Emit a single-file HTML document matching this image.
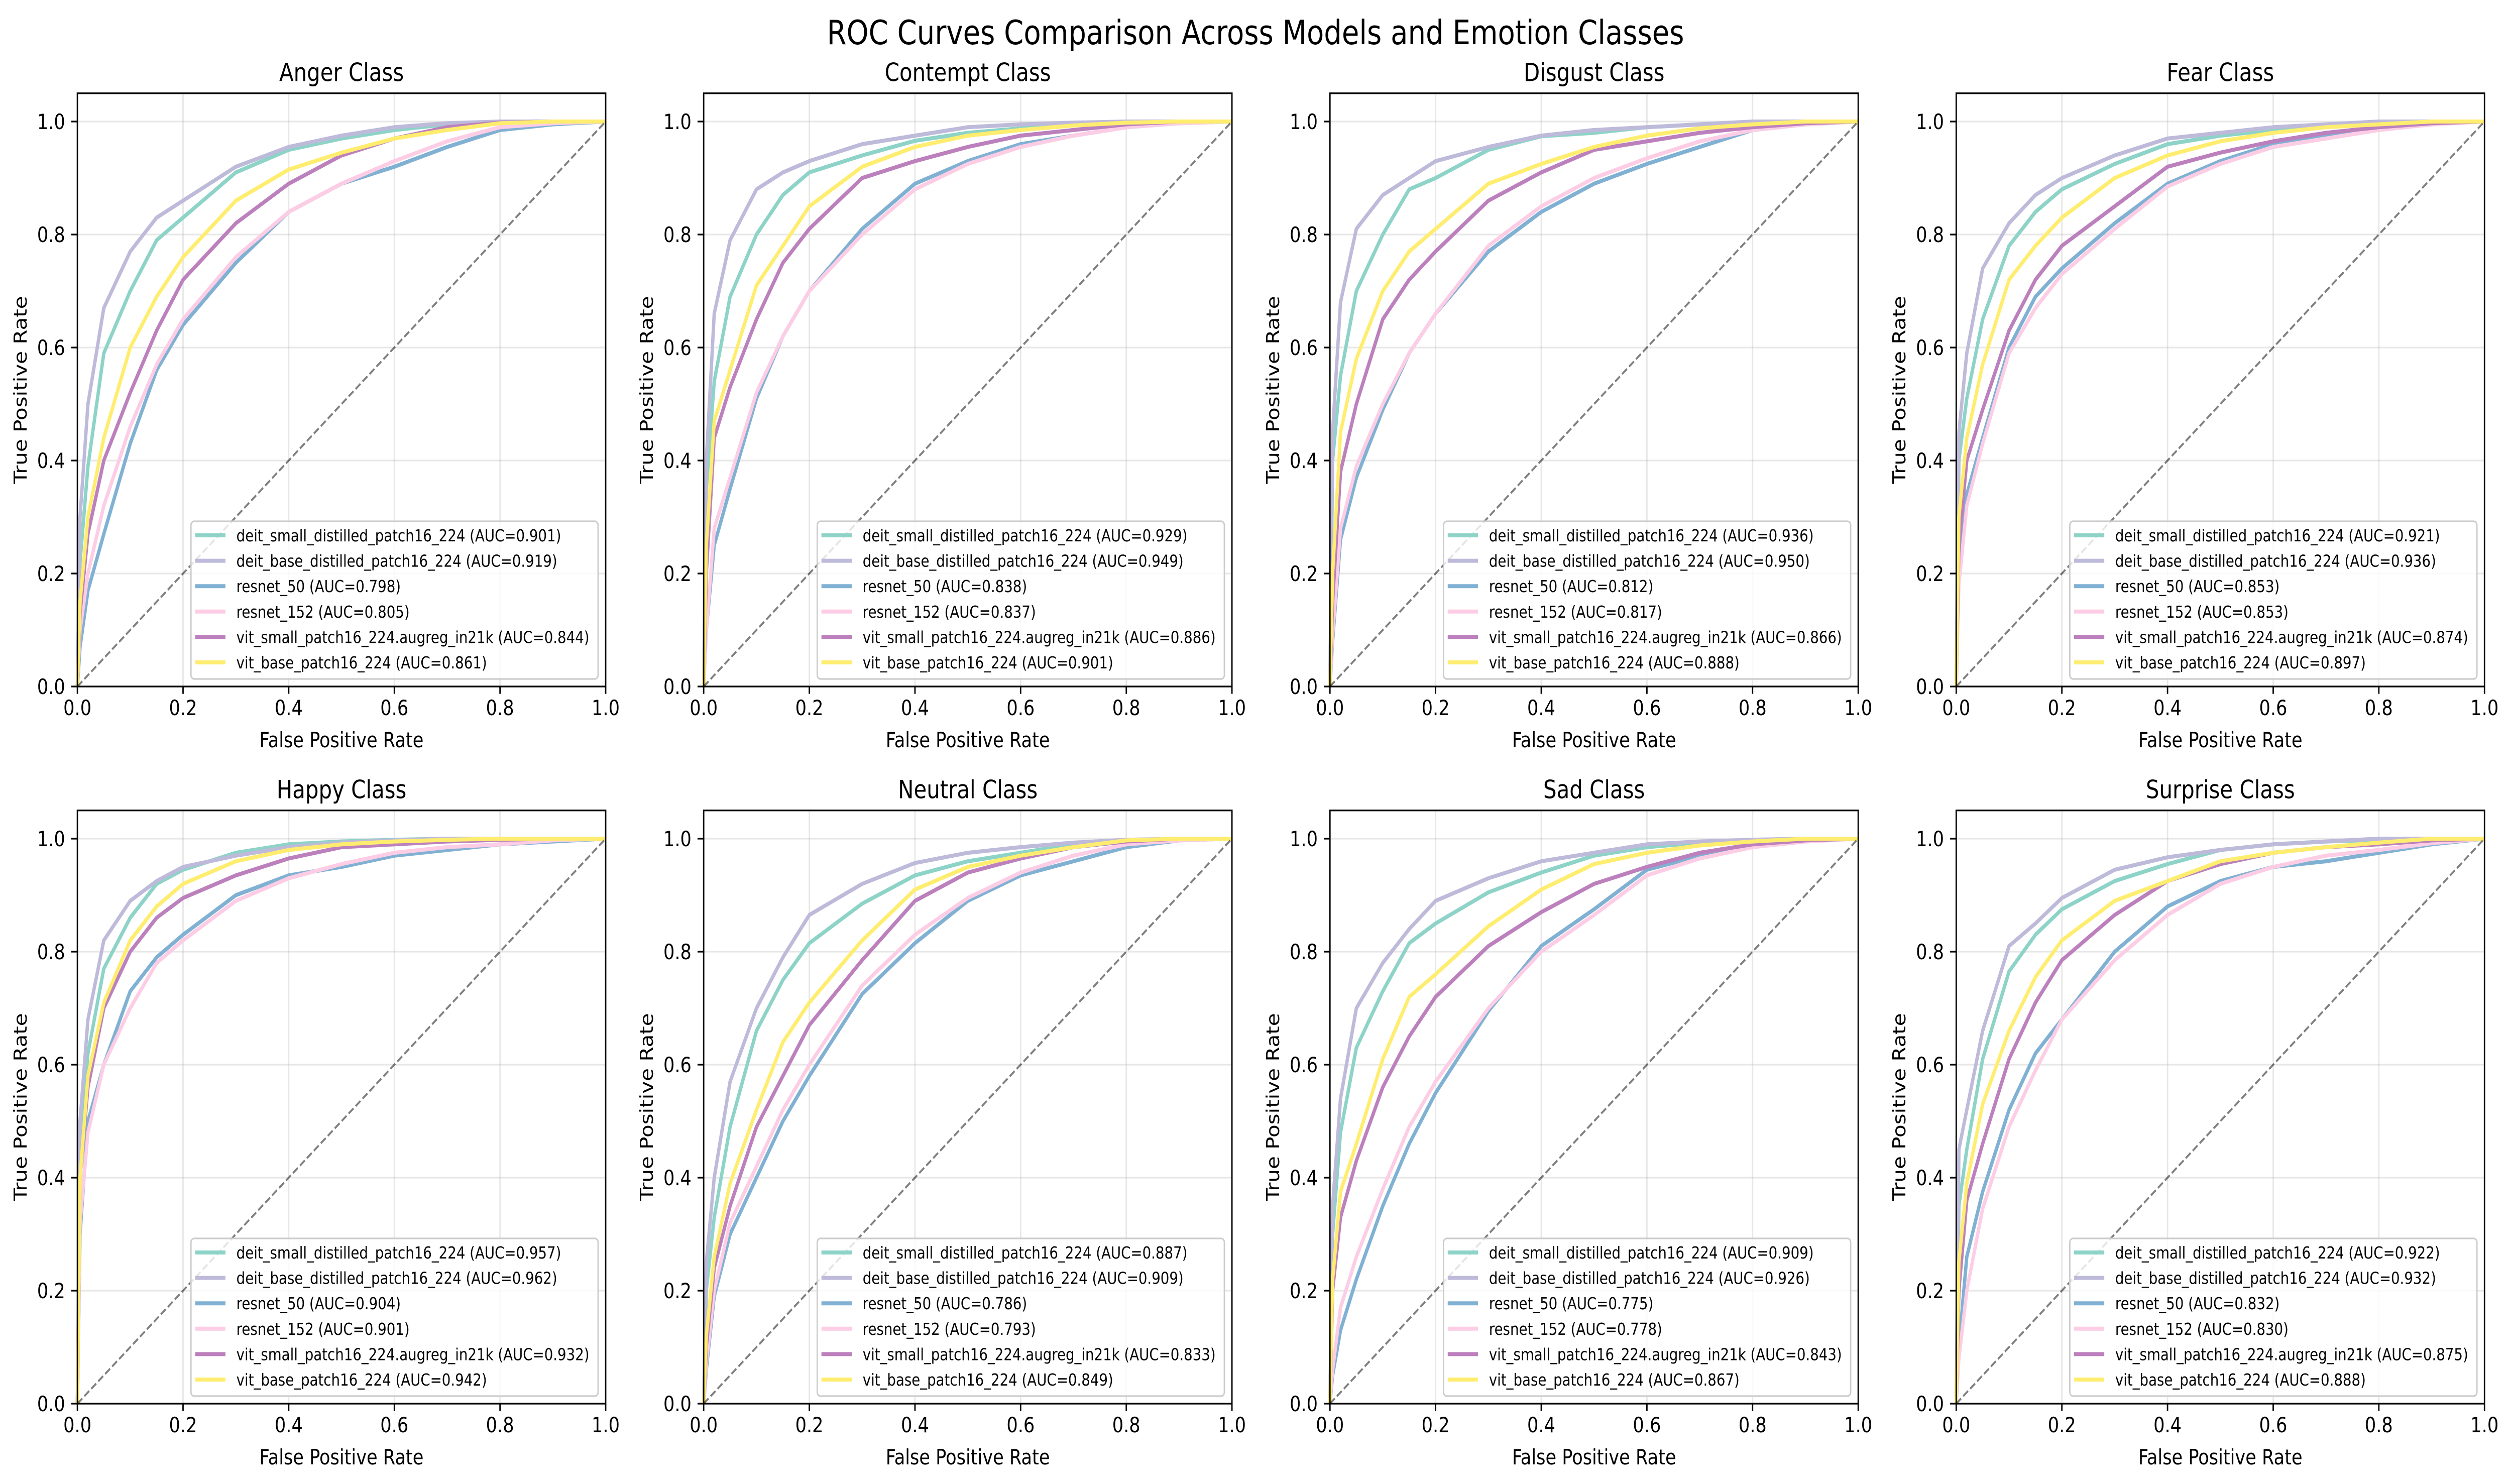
<!DOCTYPE html>
<html><head><meta charset="utf-8"><title>ROC Curves Comparison</title>
<style>html,body{margin:0;padding:0;background:#fff;overflow:hidden;width:100%;height:100%;}svg{display:block;width:100vw;height:100vh;font-family:"DejaVu Sans","Liberation Sans",sans-serif;}</style>
</head><body>
<svg id="fig" viewBox="0 0 5970 2955" preserveAspectRatio="none" xmlns="http://www.w3.org/2000/svg">
<rect width="5970" height="2955" fill="#fff"/>
<text x="2985" y="88" text-anchor="middle" font-size="67" fill="#000">ROC Curves Comparison Across Models and Emotion Classes</text>
</svg>
<script>
const classNames = ["Anger","Contempt","Disgust","Fear","Happy","Neutral","Sad","Surprise"];
const modelNames = ["deit_small_distilled_patch16_224","deit_base_distilled_patch16_224","resnet_50","resnet_152","vit_small_patch16_224.augreg_in21k","vit_base_patch16_224"];
const modelColors = ["#8dd3c7","#bebada","#80b1d3","#fccde5","#bc80bd","#ffed6f"];
const fprGrid = [0,0.005,0.02,0.05,0.1,0.15,0.2,0.3,0.4,0.5,0.6,0.7,0.8,0.9,1];
const tickValues = [0,0.2,0.4,0.6,0.8,1.0];
const tickLabels = ["0.0","0.2","0.4","0.6","0.8","1.0"];

const tprAnger = [
[0,0.22,0.39,0.59,0.70,0.79,0.83,0.91,0.95,0.97,0.985,0.995,0.998,1,1],
[0,0.30,0.50,0.67,0.77,0.83,0.86,0.92,0.955,0.975,0.99,0.997,1,1,1],
[0,0.07,0.17,0.27,0.43,0.56,0.64,0.75,0.84,0.89,0.92,0.955,0.985,0.995,1],
[0,0.10,0.20,0.32,0.46,0.57,0.65,0.76,0.84,0.89,0.93,0.965,0.99,0.997,1],
[0,0.13,0.27,0.40,0.52,0.63,0.72,0.82,0.89,0.94,0.97,0.99,0.998,1,1],
[0,0.15,0.30,0.44,0.60,0.69,0.76,0.86,0.915,0.945,0.97,0.985,0.997,1,1]];
const tprContempt = [
[0,0.35,0.54,0.69,0.80,0.87,0.91,0.94,0.966,0.98,0.988,0.995,0.998,1,1],
[0,0.40,0.66,0.79,0.88,0.91,0.93,0.96,0.975,0.99,0.995,0.998,1,1,1],
[0,0.10,0.25,0.35,0.51,0.62,0.70,0.81,0.89,0.93,0.96,0.975,0.99,0.997,1],
[0,0.10,0.28,0.37,0.52,0.62,0.70,0.80,0.88,0.925,0.955,0.975,0.99,0.997,1],
[0,0.20,0.44,0.53,0.65,0.75,0.81,0.90,0.93,0.955,0.975,0.985,0.995,1,1],
[0,0.25,0.47,0.56,0.71,0.78,0.85,0.92,0.955,0.975,0.985,0.993,0.998,1,1]];
const tprDisgust = [
[0,0.40,0.55,0.70,0.80,0.88,0.90,0.95,0.974,0.98,0.99,0.995,0.998,1,1],
[0,0.45,0.68,0.81,0.87,0.90,0.93,0.955,0.975,0.985,0.99,0.995,1,1,1],
[0,0.08,0.26,0.37,0.49,0.59,0.66,0.77,0.84,0.89,0.925,0.955,0.985,0.995,1],
[0,0.09,0.28,0.39,0.50,0.59,0.66,0.78,0.85,0.90,0.935,0.965,0.985,0.995,1],
[0,0.15,0.38,0.50,0.65,0.72,0.77,0.86,0.91,0.95,0.965,0.98,0.99,0.997,1],
[0,0.20,0.45,0.58,0.70,0.77,0.81,0.89,0.925,0.955,0.975,0.988,0.995,1,1]];
const tprFear = [
[0,0.40,0.51,0.65,0.78,0.84,0.88,0.925,0.96,0.975,0.985,0.993,0.997,1,1],
[0,0.45,0.59,0.74,0.82,0.87,0.90,0.94,0.97,0.98,0.99,0.995,1,1,1],
[0,0.20,0.34,0.44,0.60,0.69,0.74,0.82,0.89,0.93,0.96,0.975,0.99,0.997,1],
[0,0.18,0.32,0.43,0.59,0.67,0.73,0.81,0.885,0.925,0.955,0.97,0.985,0.995,1],
[0,0.25,0.40,0.49,0.63,0.72,0.78,0.85,0.92,0.945,0.965,0.98,0.99,0.997,1],
[0,0.30,0.44,0.57,0.72,0.78,0.83,0.90,0.94,0.965,0.98,0.99,0.995,1,1]];
const tprHappy = [
[0,0.45,0.62,0.77,0.86,0.92,0.945,0.975,0.99,0.995,0.998,1,1,1,1],
[0,0.50,0.68,0.82,0.89,0.925,0.95,0.97,0.985,0.993,0.997,1,1,1,1],
[0,0.30,0.50,0.60,0.73,0.79,0.83,0.90,0.935,0.95,0.97,0.98,0.99,0.995,1],
[0,0.32,0.48,0.60,0.70,0.78,0.82,0.89,0.93,0.955,0.975,0.985,0.99,0.997,1],
[0,0.40,0.56,0.70,0.80,0.86,0.895,0.935,0.965,0.985,0.99,0.995,0.998,1,1],
[0,0.40,0.58,0.71,0.82,0.88,0.92,0.96,0.98,0.99,0.995,0.998,1,1,1]];
const tprNeutral = [
[0,0.20,0.33,0.49,0.66,0.75,0.815,0.885,0.935,0.96,0.975,0.99,0.997,1,1],
[0,0.25,0.40,0.57,0.70,0.79,0.865,0.92,0.957,0.975,0.985,0.993,0.998,1,1],
[0,0.06,0.19,0.30,0.40,0.50,0.58,0.725,0.815,0.89,0.935,0.96,0.985,0.997,1],
[0,0.07,0.20,0.32,0.42,0.52,0.60,0.74,0.83,0.895,0.94,0.97,0.99,0.997,1],
[0,0.10,0.24,0.35,0.49,0.58,0.67,0.785,0.89,0.94,0.965,0.985,0.995,1,1],
[0,0.12,0.26,0.39,0.52,0.64,0.71,0.82,0.91,0.95,0.97,0.985,0.997,1,1]];
const tprSad = [
[0,0.30,0.48,0.63,0.73,0.815,0.85,0.905,0.94,0.97,0.985,0.993,0.998,1,1],
[0,0.35,0.54,0.70,0.78,0.84,0.89,0.93,0.96,0.975,0.99,0.995,0.998,1,1],
[0,0.05,0.13,0.22,0.35,0.46,0.55,0.695,0.81,0.875,0.945,0.97,0.99,0.997,1],
[0,0.06,0.17,0.26,0.38,0.49,0.57,0.70,0.80,0.865,0.935,0.965,0.985,0.995,1],
[0,0.20,0.33,0.43,0.56,0.65,0.72,0.81,0.87,0.92,0.95,0.975,0.99,0.997,1],
[0,0.22,0.375,0.46,0.61,0.72,0.76,0.845,0.91,0.955,0.975,0.988,0.995,1,1]];
const tprSurprise = [
[0,0.35,0.45,0.61,0.765,0.83,0.875,0.925,0.955,0.98,0.99,0.995,0.998,1,1],
[0,0.45,0.52,0.66,0.81,0.85,0.895,0.945,0.967,0.98,0.99,0.995,1,1,1],
[0,0.10,0.26,0.375,0.52,0.62,0.68,0.80,0.88,0.925,0.95,0.96,0.975,0.99,1],
[0,0.08,0.20,0.345,0.49,0.59,0.68,0.785,0.865,0.92,0.95,0.97,0.98,0.992,1],
[0,0.20,0.36,0.46,0.61,0.71,0.785,0.865,0.925,0.955,0.975,0.985,0.99,0.997,1],
[0,0.25,0.39,0.53,0.66,0.755,0.82,0.89,0.925,0.96,0.975,0.985,0.993,1,1]];

const aucAnger = ["0.901","0.919","0.798","0.805","0.844","0.861"];
const aucContempt = ["0.929","0.949","0.838","0.837","0.886","0.901"];
const aucDisgust = ["0.936","0.950","0.812","0.817","0.866","0.888"];
const aucFear = ["0.921","0.936","0.853","0.853","0.874","0.897"];
const aucHappy = ["0.957","0.962","0.904","0.901","0.932","0.942"];
const aucNeutral = ["0.887","0.909","0.786","0.793","0.833","0.849"];
const aucSad = ["0.909","0.926","0.775","0.778","0.843","0.867"];
const aucSurprise = ["0.922","0.932","0.832","0.830","0.875","0.888"];

const allTpr = [tprAnger,tprContempt,tprDisgust,tprFear,tprHappy,tprNeutral,tprSad,tprSurprise];
const allAuc = [aucAnger,aucContempt,aucDisgust,aucFear,aucHappy,aucNeutral,aucSad,aucSurprise];

const NS = "http://www.w3.org/2000/svg";
const svg = document.getElementById("fig");
function mk(tag, attrs, parent){const e=document.createElementNS(NS,tag);for(const k in attrs)e.setAttribute(k,attrs[k]);(parent||svg).appendChild(e);return e;}

const colLeft = [184,1673,3162,4651];
const rowZero = [1367,2795];
const axW = 1256, unit = 1125, axH = unit*1.05;

classNames.forEach((cls, ci) => {
  const L = colLeft[ci%4], B = rowZero[Math.floor(ci/4)], T = B-axH;
  const sx = v => L + v*axW;
  const sy = v => B - v*unit;
  const slug = cls.toLowerCase();
  const g = mk("g", {});
  
  
  tickValues.forEach(v => {
    const gx = mk("line",{x1:sx(v),x2:sx(v),y1:T,y2:B,stroke:"#b0b0b0","stroke-opacity":0.3,"stroke-width":3.3},g);
    
    
    const gy = mk("line",{x1:L,x2:L+axW,y1:sy(v),y2:sy(v),stroke:"#b0b0b0","stroke-opacity":0.3,"stroke-width":3.3},g);
    
    
  });
  allTpr[ci].forEach((series, mi) => {
    const pts = series.map((t,i)=> sx(fprGrid[i]).toFixed(1)+","+sy(t).toFixed(1)).join(" ");
    const pl = mk("polyline",{points:pts,fill:"none",stroke:modelColors[mi],"stroke-width":8,"stroke-linejoin":"round","stroke-linecap":"butt"},g);
    
    
  });
  const dg = mk("line",{x1:sx(0),y1:sy(0),x2:sx(1),y2:sy(1),stroke:"#000","stroke-opacity":0.5,"stroke-width":4.2,"stroke-dasharray":"15.5,6.7"},g);
  
  
  const fr = mk("rect",{x:L,y:T,width:axW,height:axH,fill:"none",stroke:"#000","stroke-width":3.3},g);
  
  
  tickValues.forEach((v,i) => {
    mk("line",{x1:sx(v),x2:sx(v),y1:B,y2:B+14.6,stroke:"#000","stroke-width":3.3},g);
    const xt = mk("text",{x:sx(v),y:B+57,"text-anchor":"middle","font-size":42,fill:"#000"},g);
    xt.textContent = tickLabels[i];
    
    
    mk("line",{x1:L-14.6,x2:L,y1:sy(v),y2:sy(v),stroke:"#000","stroke-width":3.3},g);
    const yt = mk("text",{x:L-29,y:sy(v)+15,"text-anchor":"end","font-size":42,fill:"#000"},g);
    yt.textContent = tickLabels[i];
    
    
  });
  const xl = mk("text",{x:L+axW/2,y:B+121,"text-anchor":"middle","font-size":42,fill:"#000"},g);
  xl.textContent = "False Positive Rate";
  
  
  const yc = (T+B)/2;
  const yl = mk("text",{x:0,y:0,transform:"translate("+(L-121)+","+yc+") rotate(-90)","text-anchor":"middle","font-size":42,fill:"#000"},g);
  yl.textContent = "True Positive Rate";
  
  
  const tt = mk("text",{x:L+axW/2,y:T-24,"text-anchor":"middle","font-size":50,fill:"#000"},g);
  tt.textContent = cls + " Class";
  
  
  const lx = L+270, lw = 968, lh = 314, ly = B-15-lh;
  const lg = mk("g",{},g);
  
  
  mk("rect",{x:lx,y:ly,width:lw,height:lh,rx:8,fill:"#fff","fill-opacity":0.8,stroke:"#cccccc","stroke-width":3.3},lg);
  modelNames.forEach((m,mi) => {
    const ry = ly + 28 + mi*50.6;
    const ent = mk("g",{},lg);
    
    
    mk("line",{x1:lx+10,x2:lx+82,y1:ry,y2:ry,stroke:modelColors[mi],"stroke-width":8},ent);
    const lt = mk("text",{x:lx+108,y:ry+12,"font-size":33,fill:"#000"},ent);
    lt.textContent = m + " (AUC=" + allAuc[ci][mi] + ")";
  });
});
</script>
</body></html>
